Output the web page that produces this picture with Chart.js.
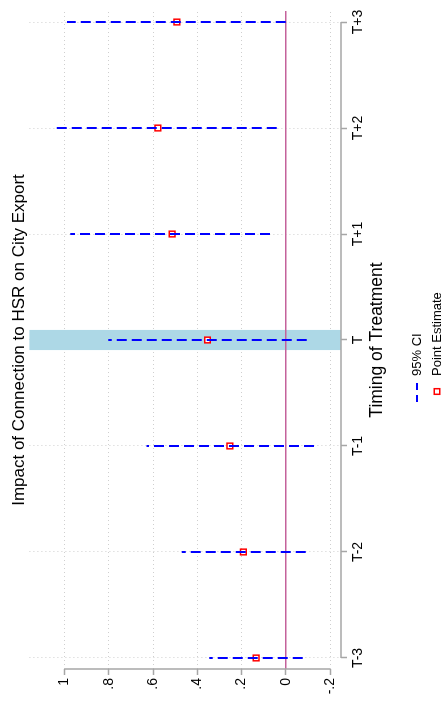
<!DOCTYPE html>
<html>
<head>
<meta charset="utf-8">
<script src="https://cdn.jsdelivr.net/npm/chart.js@4.4.0/dist/chart.umd.min.js"></script>
<style>
  html, body { margin: 0; padding: 0; background: #fff; overflow: hidden; }
  /* the chart is drawn landscape and turned a quarter turn, like the page it came from */
  #wrap {
    position: absolute; left: 0; top: 0; width: 704px; height: 446px;
    transform-origin: 0 0;
    transform: translate(0, 704px) rotate(-90deg);
  }
</style>
</head>
<body>
<div id="wrap"><canvas id="chart" width="704" height="446"></canvas></div>
<script>
// data
const categories = ["T-3", "T-2", "T-1", "T", "T+1", "T+2", "T+3"];
const pointEstimate = [0.134, 0.192, 0.253, 0.354, 0.514, 0.578, 0.492];
const ciLower = [-0.077, -0.090, -0.128, -0.095, 0.071, 0.041, 0.000];
const ciUpper = [0.346, 0.470, 0.630, 0.803, 0.974, 1.047, 0.989];
const treatmentPeriod = "T";
const referenceValue = 0;

const yTicks = [-0.2, 0, 0.2, 0.4, 0.6, 0.8, 1];
const yTickLabels = ["-.2", "0", ".2", ".4", ".6", ".8", "1"];

const chartTitle = "Impact of Connection to HSR on City Export";
const xTitle = "Timing of Treatment";

// look
const FONT = "'Liberation Sans', Arial, sans-serif";
const GRID = "#cfcfcf";
const AXIS = "#a6a6a6";
const bandHalfWidth = 0.095;

// CI spikes: lower -> upper, broken between periods
const ciData = [];
categories.forEach((c, i) => {
  ciData.push({ x: i, y: ciLower[i] }, { x: i, y: ciUpper[i] }, { x: i, y: null });
});

const decorations = {
  id: "decorations",
  beforeDatasetsDraw(chart) {
    const { ctx, chartArea: a, scales: { x, y } } = chart;
    ctx.save();

    // shaded treatment period
    const i = categories.indexOf(treatmentPeriod);
    const x0 = x.getPixelForValue(i - bandHalfWidth);
    const x1 = x.getPixelForValue(i + bandHalfWidth);
    ctx.fillStyle = "#add8e6";
    ctx.fillRect(x0, a.top, x1 - x0, a.bottom - a.top);

    // reference line at zero
    const yz = y.getPixelForValue(referenceValue);
    ctx.strokeStyle = "#c4629b";
    ctx.lineWidth = 1.3;
    ctx.beginPath();
    ctx.moveTo(a.left, yz);
    ctx.lineTo(a.right, yz);
    ctx.stroke();

    // axis lines only over the tick range
    ctx.strokeStyle = AXIS;
    ctx.lineWidth = 1.5;
    ctx.beginPath();
    ctx.moveTo(a.left, y.getPixelForValue(yTicks[0]));
    ctx.lineTo(a.left, y.getPixelForValue(yTicks[yTicks.length - 1]));
    ctx.moveTo(x.getPixelForValue(0), a.bottom);
    ctx.lineTo(x.getPixelForValue(categories.length - 1), a.bottom);
    ctx.stroke();
    ctx.restore();
  },
  afterDraw(chart) {
    // legend in one column, under the axis title
    const { ctx } = chart;
    const [ci, pe] = chart.data.datasets;
    ctx.save();
    ctx.font = "13px " + FONT;
    ctx.textBaseline = "middle";
    ctx.fillStyle = "#000";

    ctx.strokeStyle = ci.borderColor;
    ctx.lineWidth = ci.borderWidth;
    ctx.setLineDash([7, 5]);
    ctx.beginPath();
    ctx.moveTo(302, 417);
    ctx.lineTo(323, 417);
    ctx.stroke();
    ctx.setLineDash([]);
    ctx.fillText(ci.label, 328, 417);

    ctx.fillStyle = pe.backgroundColor;
    ctx.strokeStyle = pe.borderColor;
    ctx.lineWidth = pe.borderWidth;
    ctx.beginPath();
    ctx.rect(309.7, 434.2, 5.6, 5.6);
    ctx.fill();
    ctx.stroke();
    ctx.fillStyle = "#000";
    ctx.fillText(pe.label, 328, 437);
    ctx.restore();
  }
};

new Chart(document.getElementById("chart"), {
  type: "line",
  data: {
    datasets: [
      {
        label: "95% CI",
        data: ciData,
        borderColor: "#0000ff",
        borderWidth: 2,
        borderDash: [10, 5],
        pointRadius: 0,
        spanGaps: false,
        fill: false
      },
      {
        label: "Point Estimate",
        data: pointEstimate.map((v, i) => ({ x: i, y: v })),
        showLine: false,
        pointStyle: "rect",
        pointRadius: 4,
        borderColor: "#ff0000",
        backgroundColor: "#ffffff",
        borderWidth: 1.5
      }
    ]
  },
  options: {
    responsive: false,
    animation: false,
    devicePixelRatio: 1,
    layout: { padding: { left: 0, right: 11, top: 0, bottom: 0 } },
    plugins: {
      legend: { display: false },
      tooltip: { enabled: false },
      title: {
        display: true,
        fullSize: false,
        text: chartTitle,
        color: "#000",
        font: { family: FONT, size: 17, weight: "normal" },
        padding: { top: 9, bottom: 0 }
      }
    },
    scales: {
      x: {
        type: "linear",
        position: "bottom",
        min: -0.104,
        max: 6.104,
        afterBuildTicks: s => { s.ticks = categories.map((c, i) => ({ value: i })); },
        afterFit: s => { s.height = 105; },
        ticks: {
          callback: v => categories[v],
          color: "#000",
          font: { family: FONT, size: 14 },
          padding: 3,
          autoSkip: false,
          maxRotation: 0
        },
        grid: { color: GRID, borderDash: [1, 3], tickColor: AXIS, tickLength: 6, tickWidth: 1.5 },
        border: { display: false, dash: [1, 3] },
        title: {
          display: true,
          text: xTitle,
          color: "#000",
          font: { family: FONT, size: 17.5 },
          padding: { top: 0, bottom: 58.5 }
        }
      },
      y: {
        type: "linear",
        position: "left",
        min: -0.2497,
        max: 1.159,
        afterBuildTicks: s => { s.ticks = yTicks.map(v => ({ value: v })); },
        afterFit: s => { s.width = 35; },
        ticks: {
          callback: (v, idx) => yTickLabels[idx],
          color: "#000",
          font: { family: FONT, size: 14 },
          padding: 3
        },
        grid: { color: GRID, borderDash: [1, 3], tickColor: AXIS, tickLength: 6, tickWidth: 1.5 },
        border: { display: false, dash: [1, 3] }
      }
    }
  },
  plugins: [decorations]
});
</script>
</body>
</html>
